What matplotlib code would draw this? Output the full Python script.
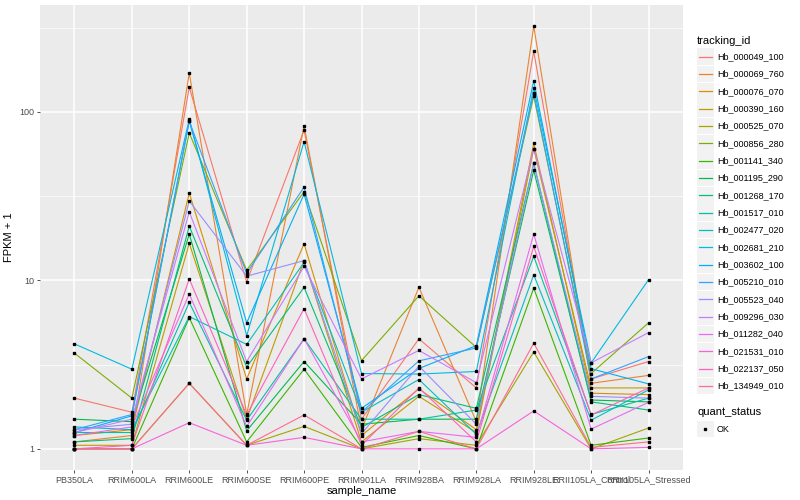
import matplotlib
matplotlib.use("Agg")
import matplotlib.pyplot as plt
import numpy as np
from matplotlib.patches import Rectangle

plt.rcParams["font.family"] = ["Liberation Sans", "DejaVu Sans"]

samples = ["PB350LA", "RRIM600LA", "RRIM600LE", "RRIM600SE", "RRIM600PE", "RRIM901LA",
           "RRIM928BA", "RRIM928LA", "RRIM928LE", "RRII105LA_Control", "RRII105LA_Stressed"]

tracking_ids = ["Hb_000049_100", "Hb_000069_760", "Hb_000076_070", "Hb_000390_160",
                "Hb_000525_070", "Hb_000856_280", "Hb_001141_340", "Hb_001195_290",
                "Hb_001268_170", "Hb_001517_010", "Hb_002477_020", "Hb_002681_210",
                "Hb_003602_100", "Hb_005210_010", "Hb_005523_040", "Hb_009296_030",
                "Hb_011282_040", "Hb_021531_010", "Hb_022137_050", "Hb_134949_010"]

# ggplot default hue palette for 20 levels
colors = ["#F8766D", "#EA8331", "#D89000", "#C09B00", "#A3A500", "#7CAE00", "#39B600",
          "#00BB4E", "#00BF7D", "#00C1A3", "#00BFC4", "#00BAE0", "#00B0F6", "#35A2FF",
          "#9590FF", "#C77CFF", "#E76BF3", "#FA62DB", "#FF62BC", "#FF6C91"]

# FPKM + 1 per tracking_id, in sample order
fpkm = [
    [2.0, 1.65, 140, 9.8, 78, 1.5, 4.5, 2.3, 229, 2.6, 3.3],
    [1.1, 1.2, 170, 1.6, 82.6, 1.3, 9.1, 1.45, 323, 2.45, 2.73],
    [1.2, 1.3, 33, 2.6, 16.5, 1.2, 2.27, 1.3, 65, 2.14, 2.1],
    [1.05, 1.05, 16.6, 1.5, 13.1, 1.1, 2.05, 1.25, 60.6, 2.3, 2.3],
    [1.0, 1.0, 2.45, 1.05, 1.36, 1.0, 1.15, 1.05, 3.76, 1.0, 1.33],
    [3.7, 2.0, 75, 11.5, 33.6, 3.34, 8.1, 4.0, 124, 2.8, 5.6],
    [1.0, 1.0, 6.0, 1.1, 2.97, 1.02, 1.2, 1.0, 9.0, 1.05, 1.16],
    [1.5, 1.45, 18.8, 1.28, 3.3, 1.4, 1.5, 1.5, 45, 1.95, 1.9],
    [1.1, 1.15, 21, 3.06, 9.1, 1.34, 2.1, 1.74, 49.5, 1.9, 1.7],
    [1.25, 1.25, 7.4, 1.48, 4.5, 1.5, 1.5, 1.7, 13.9, 1.6, 2.0],
    [1.35, 1.3, 6.1, 4.17, 12.8, 1.65, 2.58, 1.22, 10.8, 1.48, 2.24],
    [4.2, 2.97, 90.6, 4.7, 66.6, 2.8, 2.78, 2.88, 139, 3.24, 10.1],
    [1.25, 1.57, 88, 5.6, 32.5, 1.74, 3.0, 4.1, 153, 2.99, 2.43],
    [1.3, 1.6, 88, 11.0, 35.8, 1.65, 3.33, 3.97, 130, 2.6, 3.53],
    [1.3, 1.4, 29.6, 10.6, 13.1, 1.23, 3.1, 1.4, 49.5, 2.05, 2.0],
    [1.25, 1.5, 25.5, 3.3, 12.1, 2.6, 3.84, 2.47, 60.6, 3.24, 4.9],
    [1.2, 1.35, 8.3, 1.36, 4.5, 1.1, 1.27, 1.17, 18.8, 1.31, 1.89],
    [1.0, 1.0, 1.43, 1.05, 1.17, 1.0, 1.0, 1.0, 1.68, 1.0, 1.02],
    [1.0, 1.05, 10.2, 1.59, 6.8, 1.05, 2.3, 1.1, 15.9, 1.59, 2.3],
    [1.0, 1.0, 2.45, 1.05, 1.59, 1.0, 1.27, 1.0, 4.24, 1.02, 1.1],
]

fig = plt.figure(figsize=(8, 5), dpi=100)
ax = fig.add_axes([40 / 800, 30 / 500, 643 / 800, 465 / 500])
ax.set_facecolor("#EBEBEB")

x = np.arange(len(samples))
for vals, col in zip(fpkm, colors):
    ax.plot(x, vals, color=col, lw=0.8, zorder=2)
for vals in fpkm:
    ax.plot(x, vals, ls="none", marker="s", ms=2.1, color="black", zorder=3)

ax.set_yscale("log")
lo, hi = np.log10(1.0), np.log10(max(max(v) for v in fpkm))
pad = (hi - lo) * 0.05
ax.set_ylim(10 ** (lo - pad), 10 ** (hi + pad))
ax.set_xlim(-0.6, len(samples) - 0.4)

ax.set_yticks([1, 10, 100])
ax.set_yticklabels(["1", "10", "100"])
ax.set_yticks([10 ** 0.5, 10 ** 1.5, 10 ** 2.5], minor=True)
ax.yaxis.set_minor_formatter(plt.NullFormatter())
ax.set_xticks(x)
ax.set_xticklabels(samples)

ax.grid(True, which="major", color="white", lw=1.1, zorder=0)
ax.grid(True, which="minor", axis="y", color="white", lw=0.5, zorder=0)
ax.set_axisbelow(True)
for s in ax.spines.values():
    s.set_visible(False)
ax.tick_params(which="major", length=2.5, width=0.6, color="#333333",
               labelsize=6.5, labelcolor="#4D4D4D", pad=1.5)
ax.tick_params(which="minor", length=0)

ax.set_xlabel("sample_name", fontsize=8, labelpad=1)
ax.set_ylabel("FPKM + 1", fontsize=8, labelpad=4)

# legends drawn in pixel coordinates
lax = fig.add_axes([690 / 800, 0, 110 / 800, 1])
lax.set_xlim(690, 800)
lax.set_ylim(500, 0)
lax.axis("off")
lax.text(697, 40.5, "tracking_id", fontsize=8, va="center", ha="left")
for i, (name, col) in enumerate(zip(tracking_ids, colors)):
    yy = 56.7 + i * 17.33
    lax.add_patch(Rectangle((697, yy - 8.3), 16.6, 16.6, facecolor="#F2F2F2", edgecolor="none"))
    lax.plot([698.5, 711.5], [yy, yy], color=col, lw=0.9)
    lax.text(717, yy, name, fontsize=6.5, va="center", ha="left")
lax.text(697, 412.3, "quant_status", fontsize=8, va="center", ha="left")
lax.add_patch(Rectangle((697, 429 - 8.3), 16.6, 16.6, facecolor="#F2F2F2", edgecolor="none"))
lax.plot([705], [429], marker="s", ms=2.1, color="black")
lax.text(717, 429, "OK", fontsize=6.5, va="center", ha="left")

fig.savefig("out.png", dpi=100)
